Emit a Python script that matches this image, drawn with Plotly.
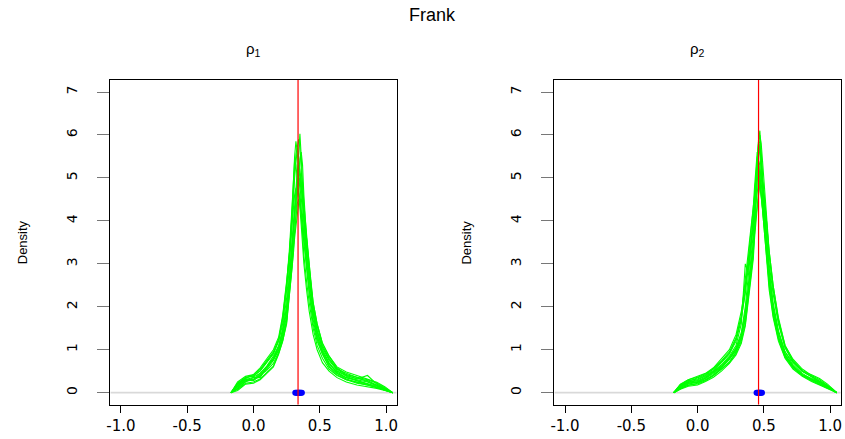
import plotly.graph_objects as go

# ---------------- data ----------------
x_grid_1 = [-0.17, -0.12, -0.06, 0.0, 0.05, 0.10, 0.15, 0.19, 0.22, 0.25, 0.27, 0.29, 0.30, 0.31, 0.32,
            0.33, 0.34, 0.35, 0.36, 0.37, 0.38, 0.40, 0.42, 0.45, 0.48, 0.52, 0.57, 0.63, 0.70, 0.78,
            0.86, 0.93, 0.99, 1.05]

dens_rho1 = [
    [0, 0.15, 0.30, 0.28, 0.42, 0.55, 0.75, 1.00, 1.30, 1.80, 2.40, 3.10, 3.60, 4.10, 4.60, 5.10, 5.60, 6.03, 5.50, 4.80, 4.20, 3.40, 2.80, 2.00, 1.45, 1.00, 0.70, 0.45, 0.35, 0.28, 0.22, 0.15, 0.08, 0],
    [0, 0.20, 0.35, 0.40, 0.50, 0.70, 0.90, 1.20, 1.60, 2.40, 3.10, 4.20, 4.90, 5.50, 5.85, 5.60, 5.20, 4.70, 4.20, 3.70, 3.20, 2.60, 2.10, 1.50, 1.10, 0.80, 0.55, 0.40, 0.30, 0.22, 0.18, 0.12, 0.06, 0],
    [0, 0.10, 0.25, 0.35, 0.35, 0.60, 0.80, 1.05, 1.45, 2.00, 2.70, 3.50, 4.00, 4.50, 4.90, 5.15, 5.30, 5.20, 4.90, 4.40, 3.90, 3.10, 2.50, 1.80, 1.30, 0.95, 0.65, 0.50, 0.40, 0.32, 0.40, 0.20, 0.10, 0],
    [0, 0.25, 0.38, 0.42, 0.55, 0.75, 0.95, 1.25, 1.70, 2.50, 3.20, 4.00, 4.40, 4.60, 4.75, 4.80, 4.70, 4.50, 4.30, 4.00, 3.70, 3.20, 2.80, 2.00, 1.55, 1.10, 0.80, 0.55, 0.45, 0.35, 0.25, 0.18, 0.10, 0],
    [0, 0.08, 0.22, 0.25, 0.32, 0.48, 0.62, 0.92, 1.20, 1.65, 2.20, 2.90, 3.30, 3.70, 4.10, 4.60, 5.10, 5.45, 5.60, 5.30, 4.60, 3.60, 2.90, 2.10, 1.60, 1.15, 0.85, 0.58, 0.42, 0.36, 0.30, 0.22, 0.12, 0],
    [0, 0.18, 0.32, 0.30, 0.45, 0.62, 0.85, 1.10, 1.40, 2.00, 2.60, 3.30, 3.80, 4.20, 4.50, 4.70, 4.90, 5.00, 4.80, 4.50, 4.20, 3.50, 3.00, 1.90, 1.40, 1.05, 0.75, 0.52, 0.38, 0.28, 0.20, 0.14, 0.07, 0],
    [0, 0.22, 0.36, 0.38, 0.52, 0.72, 0.92, 1.22, 1.75, 2.55, 3.30, 4.30, 4.90, 5.40, 5.30, 5.00, 4.60, 4.30, 3.90, 3.40, 3.00, 2.40, 1.90, 1.35, 1.00, 0.70, 0.50, 0.35, 0.25, 0.18, 0.14, 0.10, 0.05, 0],
    [0, 0.12, 0.28, 0.32, 0.40, 0.52, 0.68, 0.95, 1.25, 1.70, 2.30, 3.00, 3.40, 3.80, 4.20, 4.40, 4.50, 4.40, 4.10, 3.80, 3.40, 2.80, 2.30, 1.60, 1.20, 0.90, 0.60, 0.42, 0.30, 0.25, 0.20, 0.12, 0.06, 0],
    [0, 0.15, 0.30, 0.36, 0.45, 0.60, 0.80, 1.08, 1.50, 2.20, 2.90, 3.80, 4.40, 5.00, 5.40, 5.70, 5.90, 5.70, 5.20, 4.60, 4.00, 3.20, 2.60, 1.85, 1.35, 0.95, 0.68, 0.48, 0.35, 0.30, 0.25, 0.16, 0.09, 0],
    [0, 0.05, 0.20, 0.22, 0.30, 0.45, 0.60, 0.90, 1.20, 1.60, 2.20, 2.80, 3.20, 3.60, 3.90, 4.20, 4.40, 4.60, 4.80, 4.90, 4.40, 3.60, 3.00, 2.10, 1.60, 1.15, 0.85, 0.60, 0.48, 0.40, 0.32, 0.24, 0.14, 0],
    [0, 0.20, 0.33, 0.42, 0.58, 0.78, 1.00, 1.30, 1.80, 2.60, 3.20, 4.10, 4.70, 5.20, 5.55, 5.70, 5.50, 5.10, 4.60, 4.10, 3.60, 2.90, 2.40, 1.70, 1.25, 0.90, 0.62, 0.45, 0.32, 0.24, 0.18, 0.12, 0.06, 0],
    [0, 0.10, 0.26, 0.30, 0.38, 0.58, 0.78, 1.00, 1.35, 1.90, 2.50, 3.20, 3.70, 4.10, 4.50, 4.85, 5.05, 5.10, 4.90, 4.50, 4.00, 3.30, 2.70, 1.95, 1.45, 1.05, 0.78, 0.55, 0.40, 0.33, 0.28, 0.18, 0.10, 0],
]

x_grid_2 = [-0.18, -0.13, -0.07, 0.0, 0.06, 0.12, 0.18, 0.24, 0.29, 0.33, 0.36, 0.38, 0.40, 0.42, 0.43,
            0.44, 0.45, 0.46, 0.47, 0.48, 0.49, 0.50, 0.52, 0.54, 0.57, 0.61, 0.66, 0.72, 0.79, 0.86,
            0.92, 0.98, 1.02, 1.05]

dens_rho2 = [
    [0, 0.12, 0.22, 0.25, 0.33, 0.45, 0.60, 0.80, 1.05, 1.40, 2.00, 2.60, 3.20, 3.90, 4.40, 4.90, 5.40, 5.85, 6.10, 5.70, 5.10, 4.50, 3.60, 2.90, 2.10, 1.45, 0.95, 0.65, 0.45, 0.32, 0.24, 0.14, 0.06, 0],
    [0, 0.18, 0.28, 0.32, 0.40, 0.52, 0.70, 0.90, 1.20, 1.70, 2.40, 3.00, 3.60, 4.30, 4.80, 5.30, 5.60, 5.40, 5.00, 4.60, 4.20, 3.80, 3.00, 2.40, 1.75, 1.20, 0.80, 0.55, 0.38, 0.26, 0.18, 0.10, 0.04, 0],
    [0, 0.10, 0.18, 0.20, 0.28, 0.40, 0.55, 0.72, 0.95, 1.25, 1.80, 2.30, 2.90, 3.50, 4.10, 4.70, 5.30, 5.90, 5.80, 5.30, 4.80, 4.30, 3.50, 2.80, 2.00, 1.40, 0.90, 0.62, 0.42, 0.30, 0.22, 0.12, 0.05, 0],
    [0, 0.08, 0.15, 0.18, 0.26, 0.36, 0.50, 0.68, 0.88, 1.15, 1.55, 2.10, 2.60, 3.10, 3.60, 4.00, 4.40, 4.80, 5.00, 5.20, 5.00, 4.70, 4.00, 3.30, 2.50, 1.75, 1.10, 0.78, 0.55, 0.40, 0.30, 0.18, 0.08, 0],
    [0, 0.15, 0.25, 0.30, 0.38, 0.50, 0.65, 0.85, 1.10, 1.60, 3.00, 2.80, 3.30, 4.00, 4.50, 5.00, 5.30, 5.60, 5.80, 5.50, 5.00, 4.40, 3.40, 2.70, 1.95, 1.30, 0.85, 0.60, 0.40, 0.28, 0.20, 0.12, 0.05, 0],
    [0, 0.20, 0.30, 0.38, 0.45, 0.58, 0.78, 1.00, 1.35, 1.90, 2.50, 3.00, 3.40, 3.90, 4.20, 4.50, 4.75, 4.90, 4.80, 4.60, 4.30, 4.00, 3.30, 2.70, 2.00, 1.40, 0.95, 0.70, 0.50, 0.38, 0.28, 0.16, 0.07, 0],
    [0, 0.14, 0.24, 0.28, 0.36, 0.48, 0.62, 0.82, 1.02, 1.35, 1.90, 2.40, 3.00, 3.70, 4.30, 4.90, 5.40, 5.80, 6.00, 5.80, 5.40, 5.00, 4.10, 3.30, 2.50, 1.70, 1.10, 0.75, 0.52, 0.38, 0.28, 0.16, 0.07, 0],
    [0, 0.10, 0.20, 0.24, 0.30, 0.42, 0.58, 0.78, 1.00, 1.30, 1.70, 2.20, 2.70, 3.30, 3.80, 4.30, 4.90, 5.40, 5.30, 4.90, 4.40, 3.90, 3.10, 2.50, 1.80, 1.25, 0.82, 0.58, 0.40, 0.30, 0.24, 0.14, 0.06, 0],
    [0, 0.16, 0.26, 0.34, 0.42, 0.55, 0.72, 0.92, 1.25, 1.80, 2.60, 3.20, 3.70, 4.20, 4.60, 5.00, 5.30, 5.50, 5.70, 5.40, 4.90, 4.40, 3.70, 3.00, 2.30, 1.60, 1.05, 0.72, 0.50, 0.36, 0.26, 0.15, 0.07, 0],
    [0, 0.12, 0.22, 0.26, 0.34, 0.46, 0.60, 0.78, 0.98, 1.30, 1.75, 2.25, 2.80, 3.30, 3.70, 4.10, 4.40, 4.65, 4.85, 5.00, 4.90, 4.60, 4.00, 3.20, 2.40, 1.65, 1.05, 0.72, 0.50, 0.42, 0.33, 0.20, 0.09, 0],
    [0, 0.18, 0.30, 0.36, 0.44, 0.56, 0.74, 0.95, 1.28, 1.75, 2.30, 2.80, 3.40, 4.10, 4.60, 5.10, 5.50, 5.30, 4.90, 4.50, 4.20, 3.90, 3.20, 2.60, 1.90, 1.30, 0.88, 0.62, 0.42, 0.30, 0.20, 0.11, 0.05, 0],
    [0, 0.09, 0.17, 0.22, 0.30, 0.40, 0.55, 0.70, 0.92, 1.20, 1.60, 2.10, 2.60, 3.20, 3.80, 4.50, 5.20, 5.80, 5.60, 5.10, 4.60, 4.10, 3.40, 2.70, 1.90, 1.30, 0.86, 0.60, 0.42, 0.34, 0.26, 0.14, 0.06, 0],
]

chain_means_1 = [0.315, 0.322, 0.328, 0.333, 0.338, 0.342, 0.347, 0.352, 0.358, 0.365]
chain_means_2 = [0.445, 0.452, 0.458, 0.462, 0.466, 0.470, 0.474, 0.480, 0.486]
true_values = [0.336, 0.46]

panel_titles = ["ρ<sub>1</sub>", "ρ<sub>2</sub>"]
main_title = "Frank"
y_label = "Density"
x_ticks = [-1.0, -0.5, 0.0, 0.5, 1.0]
x_tick_text = ["-1.0", "-0.5", "0.0", "0.5", "1.0"]
y_ticks = [0, 1, 2, 3, 4, 5, 6, 7]
y_tick_text = ["0", "1", "2", "3", "4", "5", "6", "7"]

# ---------------- figure ----------------
W, H = 845, 439
FONT = "Liberation Sans, Arial, Helvetica, sans-serif"
TICKFONT = "DejaVu Sans, Liberation Sans, sans-serif"
XR = [-1.08, 1.08]
YR = [-0.28, 7.28]

fig = go.Figure()

panels = [
    dict(xg=x_grid_1, dens=dens_rho1, means=chain_means_1, xa="x", ya="y"),
    dict(xg=x_grid_2, dens=dens_rho2, means=chain_means_2, xa="x2", ya="y2"),
]

for i, p in enumerate(panels):
    fig.add_trace(go.Scatter(x=XR, y=[0, 0], mode="lines",
                             line=dict(color="#d9d9d9", width=1.6),
                             xaxis=p["xa"], yaxis=p["ya"], hoverinfo="skip", showlegend=False))
    for d in p["dens"]:
        fig.add_trace(go.Scatter(x=p["xg"], y=d, mode="lines",
                                 line=dict(color="#00ff00", width=1.1),
                                 xaxis=p["xa"], yaxis=p["ya"], showlegend=False))
    fig.add_trace(go.Scatter(x=p["means"], y=[0] * len(p["means"]), mode="markers",
                             marker=dict(color="#0000ff", size=6),
                             xaxis=p["xa"], yaxis=p["ya"], showlegend=False))
    fig.add_trace(go.Scatter(x=[true_values[i], true_values[i]], y=YR, mode="lines",
                             line=dict(color="#ff0000", width=1.2),
                             xaxis=p["xa"], yaxis=p["ya"], showlegend=False))

xdoms = [[107 / W, 395 / W], [553.7 / W, 841.7 / W]]
ydom = [1 - 404.7 / H, 1 - 80 / H]

ax_common_x = dict(range=XR, tickvals=x_ticks, ticktext=x_tick_text, ticks="outside", ticklen=7,
                   tickcolor="black", tickwidth=1, showline=True, mirror=True, linecolor="black",
                   linewidth=1, showgrid=False, zeroline=False,
                   tickfont=dict(family=TICKFONT, size=15, color="black"))
ax_common_y = dict(range=YR, tickvals=y_ticks, ticktext=y_tick_text, ticks="outside", ticklen=12,
                   tickcolor="#777777", tickwidth=1, tickangle=-90, showline=True, mirror=True,
                   linecolor="black", linewidth=1, showgrid=False, zeroline=False,
                   ticklabelstandoff=15,
                   tickfont=dict(family=TICKFONT, size=14, color="black"))

fig.update_layout(
    width=W, height=H,
    margin=dict(l=0, r=0, t=0, b=0),
    paper_bgcolor="white", plot_bgcolor="white",
    showlegend=False,
    xaxis=dict(domain=xdoms[0], anchor="y", **ax_common_x),
    yaxis=dict(domain=ydom, anchor="x", **ax_common_y),
    xaxis2=dict(domain=xdoms[1], anchor="y2", **ax_common_x),
    yaxis2=dict(domain=ydom, anchor="x2", **ax_common_y),
)

annotations = [
    dict(text=main_title, x=431 / W, y=1 - 15 / H, xref="paper", yref="paper",
         showarrow=False, font=dict(family=FONT, size=18, color="black"),
         xanchor="center", yanchor="middle"),
]
for i, xd in enumerate(xdoms):
    cx = (xd[0] + xd[1]) / 2
    annotations.append(dict(text=panel_titles[i], x=cx, y=1 - 49 / H, xref="paper", yref="paper",
                            showarrow=False, font=dict(family=FONT, size=15, color="black"),
                            xanchor="center", yanchor="middle"))
for lx in [18, 465]:
    annotations.append(dict(text=y_label, x=lx / W, y=(ydom[0] + ydom[1]) / 2, xref="paper",
                            yref="paper", showarrow=False, textangle=-90,
                            font=dict(family=FONT, size=13, color="black"),
                            xanchor="center", yanchor="middle"))
fig.update_layout(annotations=annotations)

fig.write_html("out.html", config={"displayModeBar": False},
               post_script="document.body.style.margin='0';document.body.style.overflow='hidden';")
